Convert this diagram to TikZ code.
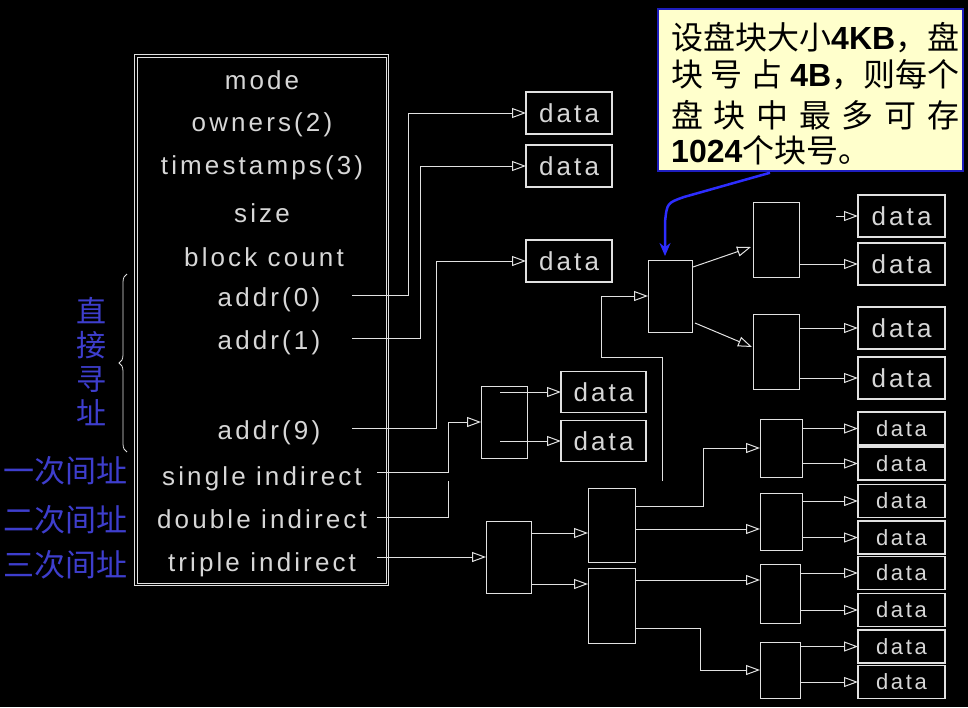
\documentclass[tikz,border=0pt]{standalone}
\usepackage{fontspec}
\setmainfont{Liberation Sans}
\newfontfamily\cjk{Noto Sans CJK SC}
\newfontfamily\spaced[LetterSpace=12]{Liberation Sans}
\usetikzlibrary{arrows.meta,decorations.pathreplacing}
\definecolor{ln}{RGB}{225,225,225}
\definecolor{txt}{RGB}{215,215,215}
\definecolor{lblblue}{RGB}{62,62,205}
\definecolor{notebg}{RGB}{255,255,204}
\definecolor{noteborder}{RGB}{30,30,190}
\definecolor{arrowblue}{RGB}{45,45,255}
\begin{document}
\begin{tikzpicture}[x=1pt,y=-1pt,
  tbl/.style={draw=ln, line width=1pt, inner sep=0pt, outer sep=0pt},
  databox/.style={draw=ln, line width=1.2pt, minimum width=86pt, minimum height=42pt, inner sep=0pt, outer sep=0pt, text=txt, font=\spaced\fontsize{26}{26}\selectfont},
  ebox/.style={databox, minimum width=87pt, minimum height=33pt, font=\spaced\fontsize{22}{22}\selectfont},
  ptr/.style={draw=ln, line width=1pt, inner sep=0pt, outer sep=0pt},
  conn/.style={draw=ln, line width=1pt, -{Triangle[open,length=14pt,width=10pt]}},
  plainline/.style={draw=ln, line width=1pt},
  inner/.style={draw=ln, line width=0.7pt},
  field/.style={text=txt, font=\spaced\fontsize{26}{26}\selectfont, inner sep=0pt},
  lbl/.style={text=lblblue, font=\cjk\fontsize{31}{31}\selectfont, inner sep=0pt},
  notetxt/.style={text=black, font=\fontsize{32}{32}\selectfont, inner sep=0pt},
  bluearr/.style={draw=arrowblue, line width=2.5pt, -{Stealth[length=13pt,width=11pt]}}
]
\fill[black] (0,0) rectangle (968,707);
\useasboundingbox (0,0) rectangle (968,707);

% inode table (double border)
\node[tbl, minimum width=254pt, minimum height=531pt] (inode) at (261.5,320) {};
\draw[inner] ([shift={(2.5,2.5)}]inode.north west) rectangle ([shift={(-2.5,-2.5)}]inode.south east);
\node[field] (fmode) at (262,80) {mode};
\node[field] (fown) at (262,125) {owners(2)};
\node[field] (fts) at (262,168) {timestamps(3)};
\node[field] (fsize) at (262,213) {size};
\node[field] (fbc) at (264,257) {block count};
\node[field] (fa0) at (269,300) {addr(0)};
\node[field] (fa1) at (269,343) {addr(1)};
\node[field] (fa9) at (269,433) {addr(9)};
\node[field] (fsi) at (262,479) {single indirect};
\node[field] (fdi) at (262,519) {double indirect};
\node[field] (fti) at (262,565) {triple indirect};

% left labels
\draw[ln, line width=0.8pt, decorate, decoration={brace, amplitude=8pt}] (127,452) -- (127,274);
\node[lbl, align=center, font=\cjk\fontsize{30}{34}\selectfont] (direct) at (91,362) {直\\接\\寻\\址};
\node[lbl, anchor=east] (ind1) at (128,471) {一次间址};
\node[lbl, anchor=east] (ind2) at (128,520) {二次间址};
\node[lbl, anchor=east] (ind3) at (128,565) {三次间址};

% data boxes
\node[databox] (D1) at (569,113) {data};
\node[databox] (D2) at (569,166) {data};
\node[databox] (D3) at (569,261) {data};
\node[databox, minimum width=85pt, minimum height=41pt] (SD1) at (603.5,392) {data};
\node[databox, minimum width=85pt, minimum height=41pt] (SD2) at (603.5,441) {data};
\node[databox, minimum width=87pt] (DD1) at (901.5,216) {data};
\node[databox, minimum width=87pt] (DD2) at (901.5,264) {data};
\node[databox, minimum width=87pt] (DD3) at (901.5,328) {data};
\node[databox, minimum width=87pt] (DD4) at (901.5,378) {data};
\node[ebox] (E1) at (901.5,428.5) {data};
\node[ebox] (E2) at (901.5,463.5) {data};
\node[ebox] (E3) at (901.5,501) {data};
\node[ebox] (E4) at (901.5,537.5) {data};
\node[ebox] (E5) at (901.5,573) {data};
\node[ebox] (E6) at (901.5,610) {data};
\node[ebox] (E7) at (901.5,646.5) {data};
\node[ebox] (E8) at (901.5,682) {data};

% pointer blocks
\node[ptr, minimum width=46pt, minimum height=72pt] (S1) at (504,422) {};
\node[ptr, minimum width=44pt, minimum height=72pt] (DI1) at (670,296) {};
\node[ptr, minimum width=46pt, minimum height=75pt] (DI2a) at (776,239.5) {};
\node[ptr, minimum width=46pt, minimum height=75pt] (DI2b) at (776,351.5) {};
\node[ptr, minimum width=45pt, minimum height=72pt] (T1) at (508.5,557) {};
\node[ptr, minimum width=47pt, minimum height=74pt] (T2a) at (611.5,525) {};
\node[ptr, minimum width=47pt, minimum height=75pt] (T2b) at (611.5,605.5) {};
\node[ptr, minimum width=42pt, minimum height=58pt] (T3a) at (781,448) {};
\node[ptr, minimum width=42pt, minimum height=57pt] (T3b) at (781,521.5) {};
\node[ptr, minimum width=40pt, minimum height=59pt] (T3c) at (780,593.5) {};
\node[ptr, minimum width=40pt, minimum height=56pt] (T3d) at (780,670) {};

% connector end points
\coordinate (a0) at (352,295);
\coordinate (a1) at (352,338);
\coordinate (a9) at (352,428);
\coordinate (si) at (377,472);
\coordinate (di) at (377,517);
\coordinate (ti) at (377,557);
\coordinate (dEnd) at (448,481);
\coordinate (dStart) at (662,481);
\coordinate (dTurn) at (601,357);
\coordinate (ddStub) at (836,216);

% direct
\draw[conn] (a0) -| ([shift={(-118,0)}]D1.west) -- (D1.west);
\draw[conn] (a1) -| ([shift={(-106,0)}]D2.west) -- (D2.west);
\draw[conn] (a9) -| ([shift={(-90,0)}]D3.west) -- (D3.west);
% single
\draw[conn] (si) -| ([shift={(-33,0)}]S1.west) -- (S1.west);
\draw[conn] ([shift={(-4,-30)}]S1.center) -- (SD1.west);
\draw[conn] ([shift={(-4,19)}]S1.center) -- (SD2.west);
% double
\draw[plainline] (di) -| (dEnd);
\draw[conn] (dStart) |- (dTurn) |- (DI1.west);
\draw[conn] ([shift={(23,-29)}]DI1.center) -- ([shift={(-2,7.5)}]DI2a.west);
\draw[conn] ([shift={(25,27)}]DI1.center) -- ([shift={(-1,-4.5)}]DI2b.west);
\draw[conn] (ddStub) -- (DD1.west);
\draw[conn] (DI2a.east |- DD2.west) -- (DD2.west);
\draw[conn] (DI2b.east |- DD3.west) -- (DD3.west);
\draw[conn] (DI2b.east |- DD4.west) -- (DD4.west);
% triple
\draw[conn] (ti) -- (T1.west);
\draw[conn] ([shift={(0,-24)}]T1.east) -- ([shift={(0,8)}]T2a.west);
\draw[conn] ([shift={(0,27)}]T1.east) -- ([shift={(0,-21.5)}]T2b.west);
\draw[conn] ([shift={(0,-19)}]T2a.east) -| ([shift={(-57,0)}]T3a.west) -- (T3a.west);
\draw[conn] ([shift={(0,4)}]T2a.east) -- ([shift={(0,7.5)}]T3b.west);
\draw[conn] ([shift={(0,-25.5)}]T2b.east) -- ([shift={(0,-13.5)}]T3c.west);
\draw[conn] ([shift={(0,22.5)}]T2b.east) -| ([shift={(-60,0)}]T3d.west) -- (T3d.west);
\foreach \a/\b in {T3a/E1,T3a/E2,T3b/E3,T3b/E4,T3c/E5,T3c/E6,T3d/E7,T3d/E8}
  \draw[conn] (\a.east |- \b.west) -- (\b.west);

% note
\node[draw=noteborder, fill=notebg, line width=1.5pt, minimum width=305pt, minimum height=162pt, inner sep=0pt] (note) at (810.5,90) {};
\node[notetxt, anchor=base west] (n1) at (671,49) {\makebox[288pt][l]{{\cjk 设盘块大小}\textbf{4KB}{\cjk ，}\hfill{\cjk 盘}}};
\node[notetxt, anchor=base west] (n2) at (671,86) {\makebox[288pt][l]{{\cjk 块}\hfill{\cjk 号}\hfill{\cjk 占}\hfill\textbf{4B}{\cjk ，则每个}}};
\node[notetxt, anchor=base west] (n3) at (671,127) {\makebox[288pt][l]{\cjk 盘\hfill 块\hfill 中\hfill 最\hfill 多\hfill 可\hfill 存}};
\node[notetxt, anchor=base west] (n4) at (671,162) {\textbf{1024}{\cjk 个块号。}};
\draw[bluearr] ([shift={(-40.5,1)}]note.south) -- (684,197) .. controls (667,203) .. (665,222) -- ([shift={(-5,-4)}]DI1.north);
\end{tikzpicture}
\end{document}
